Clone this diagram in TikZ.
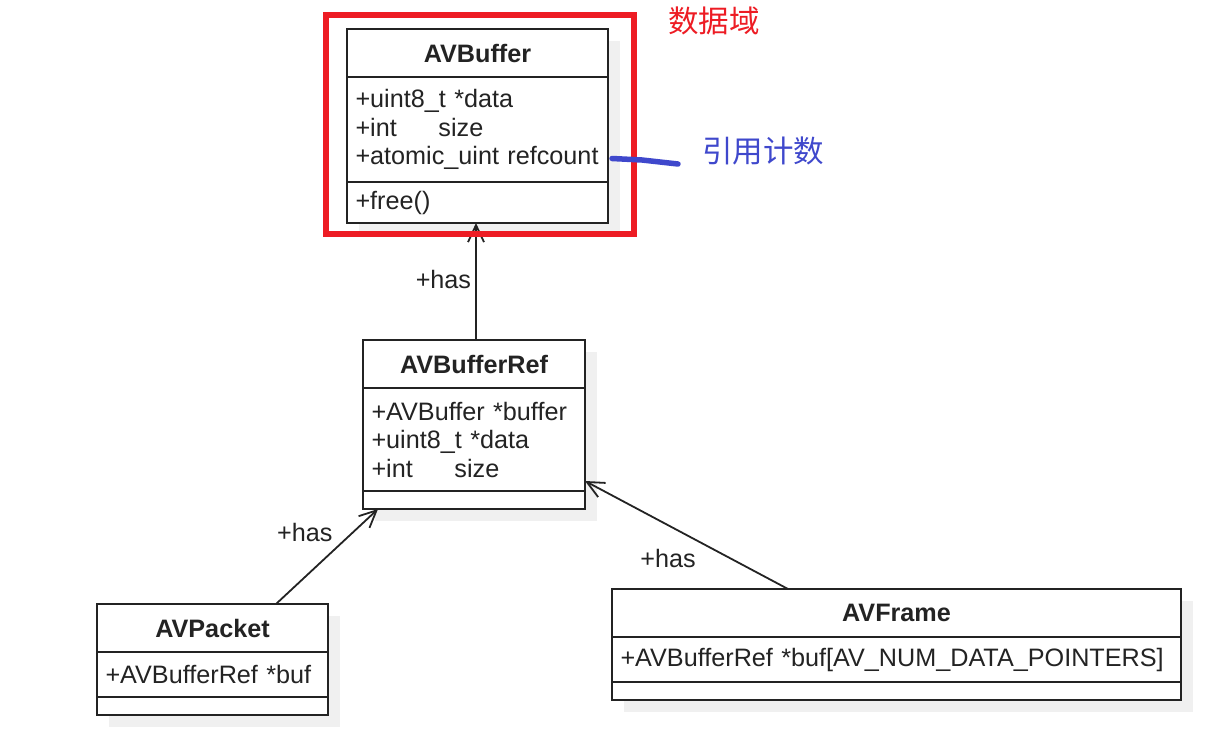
\documentclass[tikz,border=0pt]{standalone}
\usepackage{fontspec}
\setmainfont{Liberation Sans}
\newfontfamily\cjk{Noto Sans CJK SC}
\usetikzlibrary{positioning, shadows, arrows.meta}

\definecolor{ink}{HTML}{232323}
\definecolor{shade}{HTML}{F0F0F0}
\definecolor{notered}{HTML}{ED1C24}
\definecolor{noteblue}{HTML}{3F48CC}

\begin{document}
\begin{tikzpicture}[x=1pt, y=-1pt, node distance=0pt,
  every node/.style={text=ink, font=\fontsize{25.2}{28.5}\selectfont},
  classpart/.style={draw=ink, line width=1.7pt, fill=white, outer sep=0pt, inner xsep=8.5pt, inner ysep=0pt,
    drop shadow={draw=none, shadow xshift=12pt, shadow yshift=-12pt, fill=shade, opacity=1}},
  classhead/.style={classpart, text width=#1, align=center, minimum height=48pt, font=\fontsize{25.2}{28.5}\selectfont\bfseries},
  classbody/.style={classpart, text width=#1, align=left},
  classfoot/.style={classpart, minimum width=#1, minimum height=18pt},
  has/.style={-{Straight Barb[length=17pt, width=16pt]}, draw=ink, line width=1.8pt},
  hastext/.style={inner sep=0pt},
  notetext/.style={font=\cjk\fontsize{30.5}{30.5}\selectfont, inner sep=0pt}]

  \useasboundingbox (0,0) rectangle (1207,728);

  % Nodes
  \node (buf) [classhead=244pt] at (477.5,53) {AVBuffer};
  \node (bufattr) [classbody=244pt, minimum height=105pt, below=of buf] {+uint8\_t *data\\\makebox[83pt][l]{+int}size\\+atomic\_uint refcount};
  \node (bufmeth) [classbody=244pt, minimum height=41pt, below=of bufattr] {+free()};

  \node (ref) [classhead=205pt, below=117pt of bufmeth, xshift=-3.5pt] {AVBufferRef};
  \node (refattr) [classbody=205pt, minimum height=103pt, below=of ref] {+AVBuffer *buffer\\+uint8\_t *data\\\makebox[83pt][l]{+int}size};
  \node (refmeth) [classfoot=222pt, below=of refattr] {};

  \node (pkt) [classhead=214pt, below=95pt of refmeth, xshift=-261.5pt] {AVPacket};
  \node (pktattr) [classbody=214pt, minimum height=45pt, below=of pkt] {+AVBufferRef *buf};
  \node (pktmeth) [classfoot=231pt, below=of pktattr] {};

  \node (frm) [classhead=552pt, below=80pt of refmeth, xshift=422.5pt] {AVFrame};
  \node (frmattr) [classbody=552pt, minimum height=45pt, below=of frm] {+AVBufferRef *buf[AV\_NUM\_DATA\_POINTERS]};
  \node (frmmeth) [classfoot=569pt, below=of frmattr] {};

  % Arrows
  \draw[has] ([xshift=2pt]ref.north) -- ([xshift=2pt]ref.north |- bufmeth.south) node[hastext, pos=0.52, anchor=east, xshift=-4pt] {+has};
  \draw[has] ([xshift=63.5pt]pkt.north) -- ([xshift=15pt]refmeth.south west) node[hastext, pos=0.65, anchor=south east, xshift=-9pt] {+has};
  \draw[has] ([xshift=-108.5pt]frm.north) -- ([yshift=10pt]refattr.south east) node[hastext, pos=0.45, anchor=north east, yshift=-8pt] {+has};

  % Notes
  \draw[notered, line width=6pt] ([xshift=-21pt, yshift=14pt]buf.north west) rectangle ([xshift=26pt, yshift=-11pt]bufmeth.south east);
  \node (domain) [notetext, text=notered, anchor=west] at ([xshift=60pt, yshift=8pt]buf.north east) {数据域};
  \node (refcount) [notetext, text=noteblue, anchor=west] at ([xshift=94pt, yshift=-21.5pt]bufattr.east) {引用计数};
  \coordinate (tick) at ([xshift=4pt, yshift=-29pt]bufattr.east);
  \coordinate (tickend) at ([xshift=-24pt, yshift=-13pt]refcount.west);
  \draw[noteblue, line width=5.5pt, line cap=round] (tick) -- ++(30pt,-1.5pt) -- (tickend);

\end{tikzpicture}
\end{document}
